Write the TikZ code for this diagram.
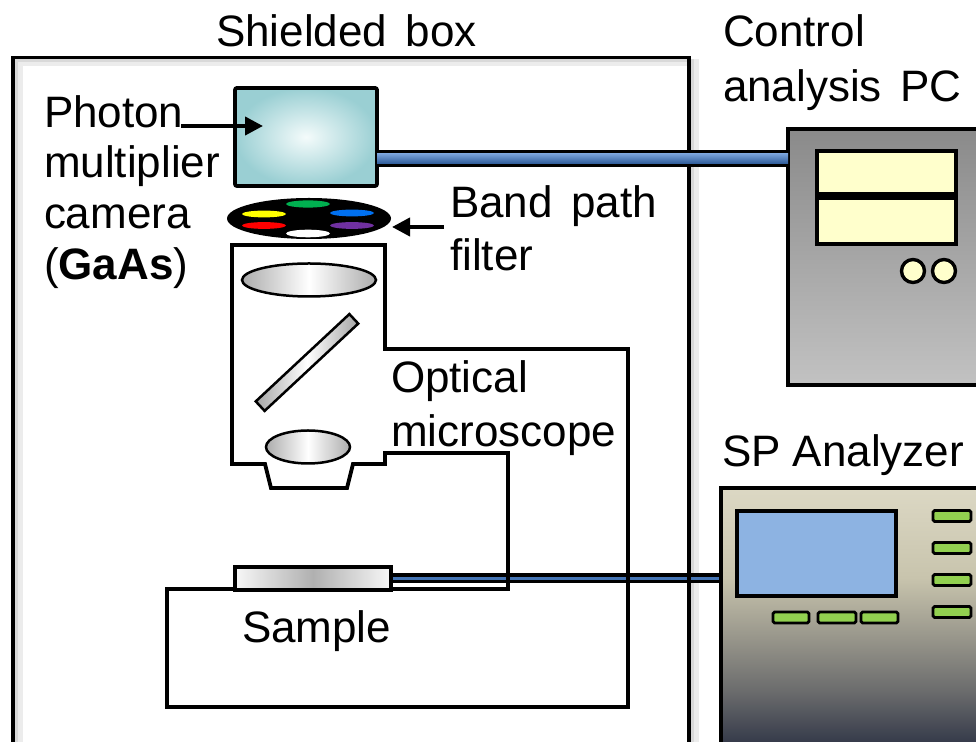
\documentclass[tikz,border=0pt]{standalone}
\usepackage{fontspec}
\setmainfont{Liberation Sans}
\usetikzlibrary{arrows.meta,shapes.geometric,calc}

\definecolor{camIn}{HTML}{F4FBFB}
\definecolor{camOut}{HTML}{9ACFD3}
\definecolor{pcTop}{HTML}{8A8A8A}
\definecolor{pcBot}{HTML}{C2C2C2}
\definecolor{winFill}{HTML}{FFFFCC}
\definecolor{spA}{HTML}{DCD8C4}
\definecolor{spAb}{HTML}{C8C4AD}
\definecolor{spB}{HTML}{98968B}
\definecolor{spC}{HTML}{6A6B6C}
\definecolor{spD}{HTML}{373C4B}
\definecolor{screenBlue}{HTML}{8DB3E2}
\definecolor{btnGreen}{HTML}{92D050}
\definecolor{cableTop}{HTML}{7AA4DC}
\definecolor{cableBot}{HTML}{2F5C9A}
\definecolor{cableMid}{HTML}{4474B4}
\definecolor{slotGreen}{HTML}{00B050}
\definecolor{slotYellow}{HTML}{FFFF00}
\definecolor{slotBlue}{HTML}{0070F0}
\definecolor{slotRed}{HTML}{FF0000}
\definecolor{slotPurple}{HTML}{7030A0}

% analyzer cabinet: beige top fading to dark slate at the bottom
\pgfdeclareverticalshading{spashade}{100bp}{color(0bp)=(spD); color(28.5bp)=(spD);
  color(37.5bp)=(spC); color(47.5bp)=(spB); color(58.5bp)=(spAb); color(75bp)=(spA); color(100bp)=(spA)}

\pgfdeclarelayer{back}
\pgfsetlayers{back,main}

\newcommand\wgap{\hspace{0.42em}}

\begin{document}
\begin{tikzpicture}[x=0.5pt,y=-0.5pt,
  wall/.style={draw=black, line width=1.9pt},
  dev/.style={draw=black, line width=1.9pt, inner sep=0pt, outer sep=0pt, anchor=north west},
  win/.style={draw=black, line width=1.7pt, fill=winFill},
  btn/.style={draw=black, line width=1.4pt, fill=btnGreen, rounded corners=0.8pt},
  lensline/.style={draw=black, line width=1.25pt},
  lbl/.style={inner sep=0pt, outer sep=0pt, anchor=base west, font=\fontsize{22pt}{25pt}\selectfont},
  pointer/.style={line width=2pt, -{Triangle[length=9pt,width=9pt]}},
  slot/.style={fill=#1}
]
\useasboundingbox (0,0) rectangle (976,742);
\clip (0,0) rectangle (976,742);

% ---- instruments ----
\node[dev, minimum width=71pt, minimum height=49pt, inner color=camIn, outer color=camOut,
      rounded corners=1pt] (cam) at (235,88) {};
\node[dev, minimum width=106pt, minimum height=128pt, top color=pcTop, bottom color=pcBot] (pc) at (788,129) {};
\node[dev, minimum width=140pt, minimum height=136pt, shading=spashade] (spa) at (721,488) {};

% soft shadow of the shielded box
\begin{pgfonlayer}{back}
  \draw[gray!15, line width=3.5pt] (19,63) rectangle (695,754);
  \draw[gray!30, line width=1.8pt] (16.5,60.5) rectangle (692.5,751.5);
\end{pgfonlayer}

% microscope body merged with the sample stage
\draw[wall] (232,245) -- (385,245) -- (385,349) -- (628,349) -- (628,707) -- (167,707)
  -- (167,589) -- (508,589) -- (508,453) -- (385,453) -- (385,464) -- (353,464)
  -- (347,488) -- (271,488) -- (265,464) -- (232,464) -- cycle;

% lenses and the tilted mirror
\draw[lensline, left color=gray!65, right color=gray!65, middle color=white]
  (309,280) ellipse [x radius=67, y radius=16.5];
\draw[lensline, left color=gray!65, right color=gray!65, middle color=white]
  (308,447) ellipse [x radius=42, y radius=16.5];
\begin{scope}[shift={(307,362.5)}, rotate=43]
  \draw[lensline, left color=gray!70, right color=gray!70, middle color=white]
    (-64,-6.5) rectangle (64,6.5);
\end{scope}

% sample on the stage
\node[dev, minimum width=78pt, minimum height=11.5pt, left color=gray!6, right color=gray!6,
      middle color=gray!62, line width=1.6pt] (sample) at (235,567) {};

% sample cable to the analyzer, behind the walls it crosses; then the shielded box
\begin{pgfonlayer}{back}
  \draw[black, line width=5pt] (sample.east) -- (sample.east -| spa.west);
  \draw[cableMid, line width=1.7pt] (sample.east) -- (sample.east -| spa.west);
  \draw[wall] (13,57.5) rectangle (689,748);
\end{pgfonlayer}

% filter wheel
\node[ellipse, fill=black, minimum width=82pt, minimum height=20.5pt, inner sep=0pt] (wheel) at (309,218.5) {};
\fill[slot=slotGreen]  (308,204) ellipse [x radius=22, y radius=3.6];
\fill[slot=slotYellow] (264,214) ellipse [x radius=22, y radius=3.4];
\fill[slot=slotBlue]   (352,213) ellipse [x radius=22, y radius=3.4];
\fill[slot=slotRed]    (264,225.5) ellipse [x radius=22, y radius=3.4];
\fill[slot=slotPurple] (352,225.5) ellipse [x radius=22, y radius=3.4];
\fill[slot=white]      (308,233.5) ellipse [x radius=22, y radius=3.8];

% camera cable to the PC
\coordinate (camport) at ([yshift=-10.75pt]cam.east);
\coordinate (pcport) at (camport -| pc.west);
\draw[black, line width=8.5pt] (camport) -- (pcport);
\shade[top color=cableTop, bottom color=cableBot] ([yshift=2.5pt]camport) rectangle ([yshift=-2.5pt]pcport);

% PC front panel
\draw[win] (817,151) rectangle (956,194);
\draw[win] (817,198) rectangle (956,244);
\draw[win] (913,271) circle [radius=11.5];
\draw[win] (944,271) circle [radius=11.5];

% analyzer front panel
\draw[black, line width=1.8pt, fill=screenBlue] (737,511) rectangle (896,596);
\foreach \yy in {516,548,580,612} { \draw[btn] (933,\yy-5.5) rectangle (971,\yy+5.5); }
\foreach \xx/\xe in {773/809, 818/856, 861/898} { \draw[btn] (\xx,612) rectangle (\xe,623); }

% ---- labels ----
\node[lbl] (shieldlbl) at (216,47) {Shielded\wgap box};
\node[lbl] (photonlbl) at (44,128) {Photon};
\node[lbl] (multlbl)   at (44,177.5) {multiplier};
\node[lbl] (camlbl)    at (44,229) {camera};
\node[lbl] (gaaslbl)   at (44,279.5) {(\textbf{GaAs})};
\node[lbl] (bandlbl)   at (450,218) {Band\wgap path};
\node[lbl] (filterlbl) at (450,271) {filter};
\node[lbl] (ctrllbl)   at (723,47) {Control};
\node[lbl] (pclbl)     at (723,102) {analysis\wgap PC};
\node[lbl] (optlbl)    at (391,393) {Optical};
\node[lbl] (microlbl)  at (391,447) {microscope};
\node[lbl] (spalbl)    at (722,467) {SP Analyzer};
\node[lbl] (samplelbl) at (242,643) {Sample};

% pointer arrows
\coordinate (phStart) at (181,126);
\coordinate (phTip) at (263,126);
\draw[pointer] (phStart) -- (phTip);
\coordinate (bfStart) at (444,227);
\coordinate (bfTip) at (392,227);
\draw[pointer] (bfStart) -- (bfTip);
\end{tikzpicture}
\end{document}
